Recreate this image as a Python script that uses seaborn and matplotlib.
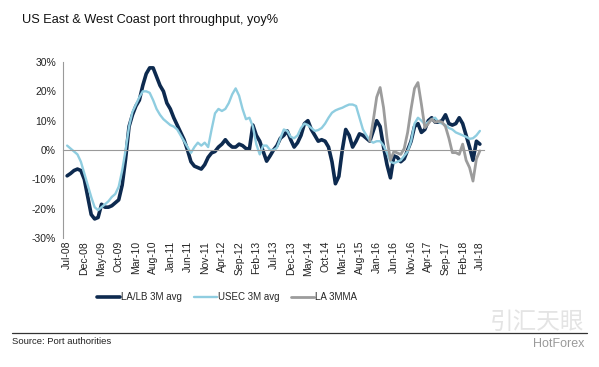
import numpy as np
import pandas as pd
import matplotlib
matplotlib.use('Agg')
import matplotlib.pyplot as plt
import seaborn as sns

# month index 0 = Jul-08 ... 120 = Jul-18
tick_labels = ['Jul-08', 'Dec-08', 'May-09', 'Oct-09', 'Mar-10', 'Aug-10', 'Jan-11',
               'Jun-11', 'Nov-11', 'Apr-12', 'Sep-12', 'Feb-13', 'Jul-13', 'Dec-13',
               'May-14', 'Oct-14', 'Mar-15', 'Aug-15', 'Jan-16', 'Jun-16', 'Nov-16',
               'Apr-17', 'Sep-17', 'Feb-18', 'Jul-18']

lalb = [-8.8, -8, -7, -6.5, -7, -10, -16, -22, -23.5, -23,
        -18.5, -19.5, -19.5, -19, -18, -17, -12, -3, 8, 12,
        15, 17, 22, 26, 28, 28, 25, 22, 20, 16,
        14, 11, 8.5, 6, 3.5, 0, -4, -5.5, -6, -6.5,
        -5, -2.5, -1, -0.5, 1, 2, 3.5, 2, 1, 1,
        2, 1.5, 0.5, 0.3, 8.5, 5, 3, -0.5, -3.8, -2,
        0, 1.5, 4, 5, 6.5, 3.5, 1, 2.5, 5, 9,
        10, 7, 5, 3, 3.5, 3, 1, -4, -11.5, -9,
        0, 7, 5, 1, 3, 5.5, 5, 4, 3, 6.5,
        10, 8, 1, -5, -9.5, -2, -2.5, -4, -3, 0,
        3, 8, 9, 6, 7, 10, 11, 9.5, 9.5, 10,
        12, 9, 8.5, 9, 11, 9, 5, 1, -3.5, 3, 2]

usec = [1.5, 0.5, -0.5, -1.5, -4, -8, -12, -16, -19.5, -20.5,
        -19.5, -18.5, -17.5, -16, -15, -12.5, -7, 0, 8, 13,
        15.5, 18, 20, 20, 19.5, 17, 14, 12, 10.5, 9.5,
        8.5, 8, 7, 5, 3, 1, -1, 1, 2.5, 1.5,
        2.5, 1, 7, 12.5, 14, 13.3, 14, 16, 19, 21,
        18.5, 14, 10.5, 11, 8, 2, -1.5, 1.5, 1.5, 0,
        0, 0.8, 4, 7, 6.5, 4.5, 4, 5, 7.5, 9,
        8.5, 7.5, 6.5, 6.8, 7.5, 9, 11, 12.7, 13.5, 14,
        14.4, 15, 15.5, 15.5, 15, 11, 7, 5, 3.2, 2.5,
        3, 3, 1.5, -1, -4, -4.5, -4, -3.5, -2, -0.5,
        3, 9, 11, 10, 8.8, 9.5, 10.5, 11, 9.5, 9,
        8.5, 7.5, 7, 6, 5.5, 5, 4.5, 3.8, 4, 5, 6.5]

# LA 3MMA starts at month 88 (Nov-15)
la_start = 88
la3mma = [3, 10, 18, 21.3, 14.4, 4, -3.5, -0.5, -1, -1.5,
          0.5, 6, 14, 21, 23, 15.6, 7.6, 9, 10.5, 9.5,
          9.8, 9.5, 8, 4, -0.9, -0.9, -1.5, 2, -3.5, -6,
          -10.6, -3, -0.3]

months = np.arange(len(lalb))

sns.set_style('white')
plt.rcParams['font.family'] = ['Liberation Sans', 'DejaVu Sans']

fig = plt.figure(figsize=(5.99, 3.67), dpi=100)
ax = fig.add_axes([63/599, 1-238/367, (484-63)/599, (238-62)/367])

sns.lineplot(x=months, y=lalb, ax=ax, color='#0d2a4f', linewidth=2.6, label='LA/LB 3M avg')
sns.lineplot(x=months, y=usec, ax=ax, color='#8fcde0', linewidth=1.7, label='USEC 3M avg')
sns.lineplot(x=np.arange(la_start, la_start + len(la3mma)), y=la3mma, ax=ax,
             color='#9c9c9c', linewidth=2.0, label='LA 3MMA')

# spine position first: it resets the ticks
for s in ['top', 'right']:
    ax.spines[s].set_visible(False)
ax.spines['left'].set_color('#9a9a9a')
ax.spines['left'].set_linewidth(0.8)
ax.spines['bottom'].set_position(('data', 0))
ax.spines['bottom'].set_color('#9a9a9a')
ax.spines['bottom'].set_linewidth(0.8)

ax.set_xlim(-1.2, 121.2)
ax.set_ylim(-30, 30)
ax.set_yticks(range(-30, 31, 10))
ax.set_yticklabels([f'{v}%' for v in range(-30, 31, 10)], fontsize=7.5, color='#222222')
ax.set_xticks(range(0, 121, 5))
ax.set_xticklabels(tick_labels, fontsize=7.5, color='#222222')
ax.tick_params(axis='y', length=3, color='#9a9a9a', pad=2)
ax.tick_params(axis='x', length=2.5, color='#9a9a9a', pad=63, labelrotation=90)
ax.set_xlabel('')
ax.set_ylabel('')

ax.legend(loc='center', bbox_to_anchor=(227/599, 1-297/367), bbox_transform=fig.transFigure,
          ncol=3, frameon=False, fontsize=7, handlelength=2.4, handletextpad=0.1,
          columnspacing=1.2)

fig.text(22/599, 1-20/367, 'US East & West Coast port throughput, yoy%',
         fontsize=9.2, va='center', ha='left', color='#111111')

fig.add_artist(plt.Line2D([12/599, 587/599], [1-333/367, 1-333/367], color='#333333',
                          linewidth=0.9, transform=fig.transFigure))
fig.text(12/599, 1-341/367, 'Source: Port authorities', fontsize=6.8,
         va='center', ha='left', color='#222222')

# faint watermark
fig.text(584/599, 1-322/367, '引汇天眼', family=['Noto Sans CJK SC'], fontsize=17,
         ha='right', va='center', color='#e4e4e4')
fig.text(584/599, 1-344/367, 'HotForex', fontsize=9, ha='right', va='center',
         color='#9a9a9a')

fig.savefig('out.png', dpi=100, facecolor='white')
